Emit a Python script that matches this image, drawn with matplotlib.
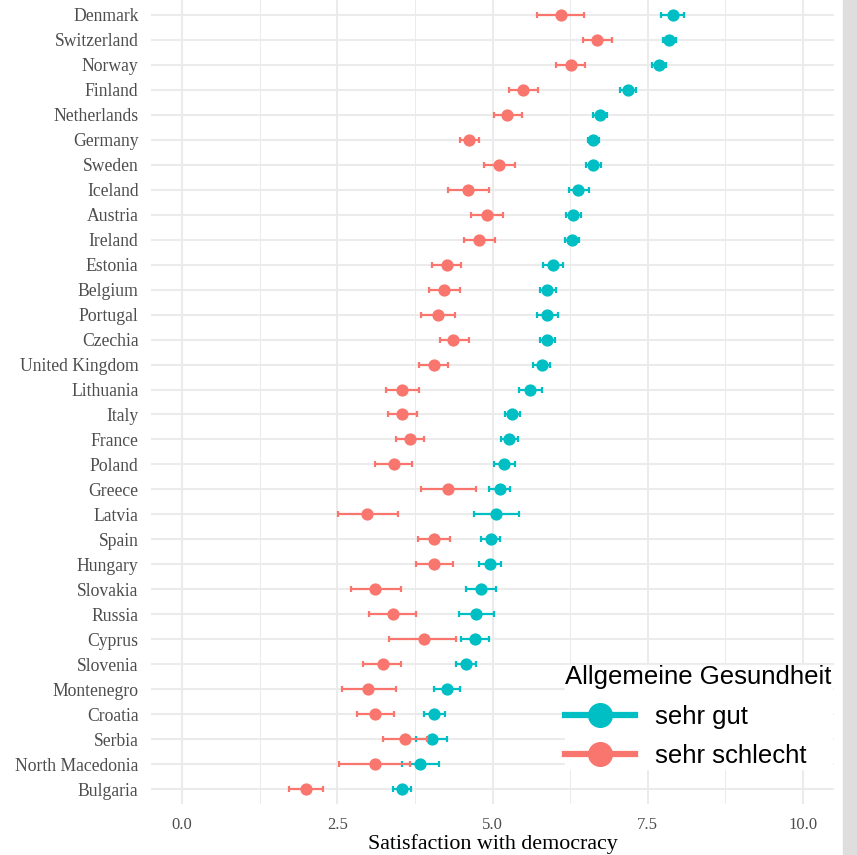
import matplotlib
matplotlib.use("Agg")
from matplotlib import pyplot as plt
from matplotlib.lines import Line2D
from matplotlib.patches import Rectangle
from matplotlib.ticker import MultipleLocator
import numpy as np

countries = ["Denmark", "Switzerland", "Norway", "Finland", "Netherlands", "Germany",
             "Sweden", "Iceland", "Austria", "Ireland", "Estonia", "Belgium", "Portugal",
             "Czechia", "United Kingdom", "Lithuania", "Italy", "France", "Poland", "Greece",
             "Latvia", "Spain", "Hungary", "Slovakia", "Russia", "Cyprus", "Slovenia",
             "Montenegro", "Croatia", "Serbia", "North Macedonia", "Bulgaria"]

# sehr gut
gut_mean = [7.90, 7.85, 7.68, 7.18, 6.73, 6.62, 6.62, 6.38, 6.30, 6.28, 5.98, 5.88, 5.88, 5.88,
            5.79, 5.60, 5.31, 5.27, 5.19, 5.12, 5.06, 4.97, 4.96, 4.81, 4.74, 4.72, 4.57, 4.26,
            4.06, 4.02, 3.83, 3.54]
gut_lo = [7.71, 7.75, 7.57, 7.06, 6.62, 6.54, 6.50, 6.23, 6.18, 6.17, 5.82, 5.76, 5.71, 5.76,
          5.66, 5.42, 5.20, 5.13, 5.02, 4.95, 4.71, 4.81, 4.79, 4.57, 4.46, 4.49, 4.41, 4.06,
          3.89, 3.77, 3.54, 3.39]
gut_hi = [8.09, 7.95, 7.79, 7.31, 6.85, 6.72, 6.75, 6.55, 6.43, 6.40, 6.14, 6.02, 6.06, 6.01,
          5.93, 5.79, 5.44, 5.41, 5.37, 5.28, 5.42, 5.12, 5.13, 5.06, 5.03, 4.95, 4.73, 4.48,
          4.23, 4.27, 4.14, 3.69]

# sehr schlecht
schlecht_mean = [6.10, 6.69, 6.26, 5.49, 5.24, 4.62, 5.11, 4.61, 4.91, 4.79, 4.26, 4.22, 4.12,
                 4.37, 4.06, 3.55, 3.55, 3.67, 3.41, 4.29, 2.98, 4.06, 4.06, 3.11, 3.40, 3.89,
                 3.23, 3.00, 3.11, 3.59, 3.10, 2.00]
schlecht_lo = [5.71, 6.45, 6.03, 5.26, 5.02, 4.47, 4.86, 4.29, 4.65, 4.54, 4.03, 3.98, 3.85,
               4.15, 3.82, 3.28, 3.31, 3.44, 3.11, 3.85, 2.51, 3.80, 3.77, 2.72, 3.01, 3.34,
               2.92, 2.57, 2.82, 3.24, 2.52, 1.73]
schlecht_hi = [6.48, 6.93, 6.49, 5.73, 5.47, 4.78, 5.37, 4.94, 5.17, 5.04, 4.49, 4.48, 4.40,
               4.62, 4.29, 3.82, 3.78, 3.90, 3.71, 4.73, 3.47, 4.32, 4.37, 3.52, 3.77, 4.42,
               3.53, 3.45, 3.42, 3.95, 3.67, 2.27]

x_ticks = [0.0, 2.5, 5.0, 7.5, 10.0]
teal = "#00BFC4"
red = "#F8766D"
grid_col = "#ebebeb"

fig = plt.figure(figsize=(8.57, 8.55), dpi=100)
fig.patches.append(Rectangle((843 / 857, 0), 14 / 857, 1, transform=fig.transFigure,
                             color="#dedede", zorder=0))
ax = fig.add_axes([151 / 857, 51 / 855, 683 / 857, 804 / 855])
ax.set_facecolor("white")

y = np.arange(len(countries))


def draw_series(mean, lo, hi, col, z):
    mean = np.array(mean)
    err = [mean - np.array(lo), np.array(hi) - mean]
    ax.errorbar(mean, y, xerr=err, fmt="o", color=col, ecolor=col, markersize=7.8,
                elinewidth=1.6, capsize=2.2, capthick=1.6, zorder=z)


draw_series(gut_mean, gut_lo, gut_hi, teal, 3)
draw_series(schlecht_mean, schlecht_lo, schlecht_hi, red, 4)

ax.set_xlim(-0.5, 10.5)
ax.set_ylim(len(countries) - 0.4, -0.6)
ax.set_yticks(y)
ax.set_yticklabels(countries, family="Liberation Serif", fontsize=12.7, color="#4d4d4d")
ax.set_xticks(x_ticks)
ax.set_xticklabels(["%.1f" % t for t in x_ticks], family="Liberation Serif", fontsize=12,
                   color="#4d4d4d")
ax.xaxis.set_minor_locator(MultipleLocator(1.25))
ax.tick_params(axis="both", which="both", length=0)
ax.tick_params(axis="y", pad=9)
ax.tick_params(axis="x", pad=9)
ax.grid(True, which="major", color=grid_col, linewidth=1.5, zorder=0)
ax.grid(True, which="minor", axis="x", color=grid_col, linewidth=0.75, zorder=0)
ax.set_axisbelow(True)
for s in ax.spines.values():
    s.set_visible(False)
ax.set_xlabel("Satisfaction with democracy", family="Liberation Serif", fontsize=15.8,
              color="black", labelpad=1)

handles = [Line2D([0], [0], color=teal, lw=4.5, marker="o", markersize=17),
           Line2D([0], [0], color=red, lw=4.5, marker="o", markersize=17)]
leg = ax.legend(handles, ["sehr gut", "sehr schlecht"], title="Allgemeine Gesundheit",
                loc="upper left", bbox_to_anchor=(552 / 857, 1 - 652 / 855),
                bbox_transform=fig.transFigure, prop={"family": "Liberation Sans", "size": 18.5},
                title_fontproperties={"family": "Liberation Sans", "size": 18.5},
                frameon=True, fancybox=False, edgecolor="white", facecolor="white",
                framealpha=1, handlelength=2.7, handletextpad=0.78, labelspacing=0.6,
                borderpad=0.02, alignment="left")

fig.savefig("out.png", dpi=100, facecolor="white")
